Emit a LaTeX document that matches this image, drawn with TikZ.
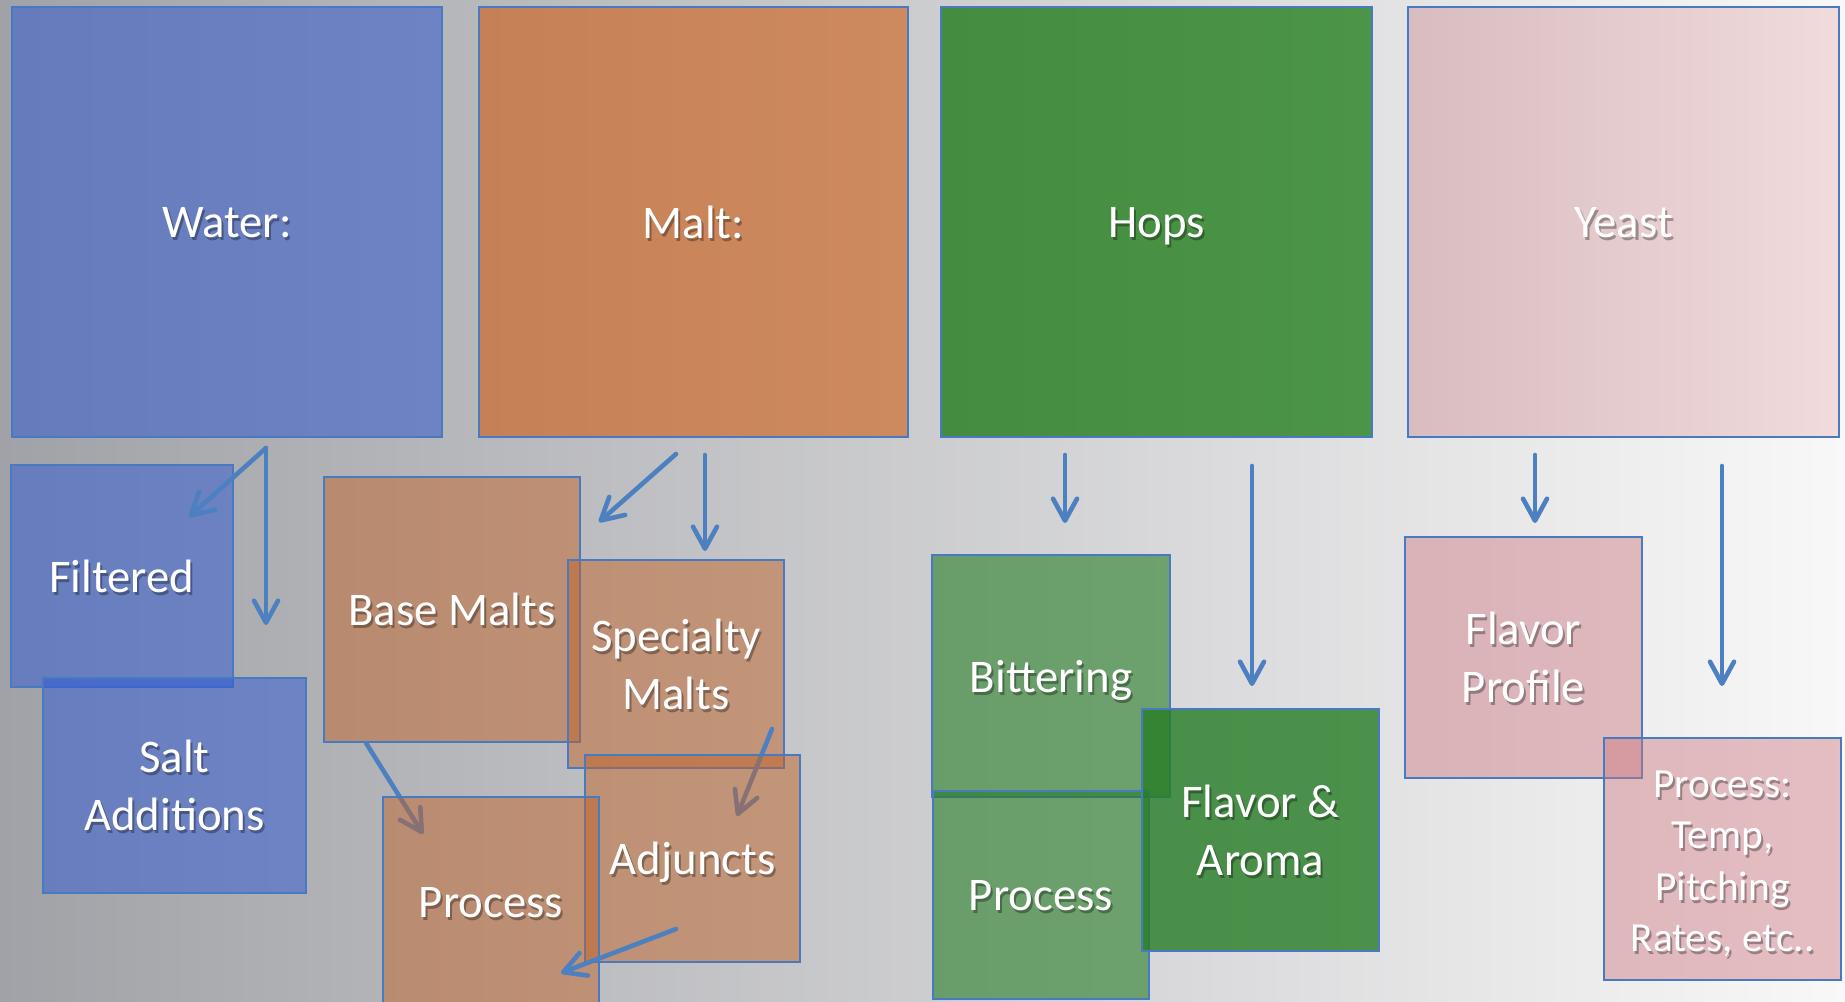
\documentclass[tikz,border=0pt]{standalone}
\usepackage{fontspec}
\setmainfont{Carlito}
\usetikzlibrary{fit,arrows.meta}
\definecolor{bgL}{RGB}{161,162,167}
\definecolor{bgR}{RGB}{248,248,248}
\definecolor{edgeblue}{RGB}{72,122,194}
\definecolor{arrowblue}{RGB}{76,128,192}
\definecolor{waterL}{RGB}{102,123,188}
\definecolor{waterR}{RGB}{110,131,195}
\definecolor{maltL}{RGB}{198,128,86}
\definecolor{maltR}{RGB}{206,138,95}
\definecolor{hopsL}{RGB}{68,140,64}
\definecolor{hopsR}{RGB}{75,149,72}
\definecolor{yeastL}{RGB}{216,188,192}
\definecolor{yeastR}{RGB}{241,219,219}
\definecolor{blueC}{RGB}{46,88,212}
\definecolor{orangeC}{RGB}{192,100,42}
\definecolor{greenC}{RGB}{38,125,37}
\definecolor{pinkC}{RGB}{205,120,128}
\tikzset{
  boxedge/.style={draw=edgeblue, line width=1.1pt, inner sep=0pt, outer sep=0pt},
  topbox/.style={boxedge},
  bluebox/.style={boxedge, fill=blueC, fill opacity=0.5},
  orangebox/.style={boxedge, fill=orangeC, fill opacity=0.5},
  greenbox/.style={boxedge, fill=greenC, fill opacity=0.6},
  darkgreenbox/.style={boxedge, fill=greenC, fill opacity=0.8},
  pinkbox/.style={boxedge, fill=pinkC, fill opacity=0.45},
  txt/.style={text=white, font=\fontsize{23.4}{29}\selectfont, align=center, inner sep=0pt},
  smalltxt/.style={font=\fontsize{20.7}{25.7}\selectfont},
  flat/.style={text depth=0pt},
  txtsh/.style={txt, text=black, text opacity=0.32},
  conn/.style={draw=arrowblue, line width=2.3pt, line cap=round,
    -{Straight Barb[length=11pt,width=12pt,round]}},
}
\newcommand\boxlabel[4][]{%
  \node[txtsh,#1] (#2-sh) at ([shift={(2,3)}]#3.center) {#4};
  \node[txt,#1] (#2) at (#3.center) {#4};}
\begin{document}
\begin{tikzpicture}[x=0.5pt,y=-0.5pt]
\useasboundingbox (0,0) rectangle (1845,1001);
\clip (0,0) rectangle (1845,1001);
\shade[left color=bgL, right color=bgR] (0,0) rectangle (1845,1001);

% top boxes
\node[topbox, left color=waterL, right color=waterR, fit={(12,7) (442,437)}] (water) {};
\node[topbox, left color=maltL, right color=maltR, fit={(479,7) (908,437)}] (malt) {};
\node[topbox, left color=hopsL, right color=hopsR, fit={(941,7) (1372,437)}] (hops) {};
\node[topbox, left color=yeastL, right color=yeastR, fit={(1408,7) (1839,437)}] (yeast) {};

% water group
\node[bluebox, fit={(11,465) (233,687)}] (filtered) {};
\node[bluebox, fit={(43,678) (306,893)}] (salt) {};

% malt group
\node[orangebox, fit={(324,477) (580,742)}] (base) {};
\node[orangebox, fit={(568,560) (784,768)}] (spec) {};
\coordinate (bp1) at (366,743);
\coordinate (bp2) at (423,834);
\coordinate (sa1) at (772,729);
\coordinate (sa2) at (737,816);
\draw[conn] (bp1) -- (bp2);
\draw[conn] (sa1) -- (sa2);
\node[orangebox, fit={(585,755) (800,962)}] (adj) {};
\node[orangebox, fit={(383,797) (599,1008)}] (procm) {};

% hops group
\node[greenbox, fit={(932,555) (1170,797)}] (bitter) {};
\node[greenbox, fit={(933,791) (1149,999)}] (proch) {};
\node[darkgreenbox, fit={(1142,709) (1379,951)}] (flav) {};

% yeast group
\node[pinkbox, fit={(1405,537) (1642,778)}] (prof) {};
\node[pinkbox, fit={(1604,738) (1841,980)}] (ptemp) {};

% labels
\boxlabel[flat]{waterT}{water}{Water:}
\boxlabel[flat]{maltT}{malt}{Malt:}
\boxlabel[flat]{hopsT}{hops}{Hops}
\boxlabel[flat]{yeastT}{yeast}{Yeast}
\boxlabel[flat]{filteredT}{filtered}{Filtered}
\boxlabel{saltT}{salt}{Salt\\Additions}
\boxlabel[flat]{baseT}{base}{Base Malts}
\boxlabel{specT}{spec}{Specialty\\Malts}
\boxlabel[flat]{adjT}{adj}{Adjuncts}
\boxlabel[flat]{procmT}{procm}{Process}
\boxlabel[flat]{bitterT}{bitter}{Bittering}
\boxlabel[flat]{prochT}{proch}{Process}
\boxlabel{flavT}{flav}{Flavor \&\\Aroma}
\boxlabel{profT}{prof}{Flavor\\Profile}
\boxlabel[smalltxt,yshift=-2.5pt]{ptempT}{ptemp}{Process:\\Temp,\\Pitching\\Rates, etc..}

% connectors
\coordinate (w0) at (266,448);
\coordinate (w1) at (189,517);
\coordinate (w2) at (266,625);
\coordinate (m0) at (676,454);
\coordinate (m1) at (599,522);
\coordinate (m2a) at (705,455);
\coordinate (m2) at (705,551);
\coordinate (ap1) at (676,929);
\coordinate (ap2) at (561,973);
\coordinate (h1a) at (1065,455);
\coordinate (h1) at (1065,523);
\coordinate (h2a) at (1252,466);
\coordinate (h2) at (1252,686);
\coordinate (y1a) at (1535,455);
\coordinate (y1) at (1535,523);
\coordinate (y2a) at (1722,466);
\coordinate (y2) at (1722,686);
\draw[conn] (w0) -- (w1);
\draw[conn] (w0) -- (w2);
\draw[conn] (m0) -- (m1);
\draw[conn] (m2a) -- (m2);
\draw[conn] (ap1) -- (ap2);
\draw[conn] (h1a) -- (h1);
\draw[conn] (h2a) -- (h2);
\draw[conn] (y1a) -- (y1);
\draw[conn] (y2a) -- (y2);
\end{tikzpicture}
\end{document}
